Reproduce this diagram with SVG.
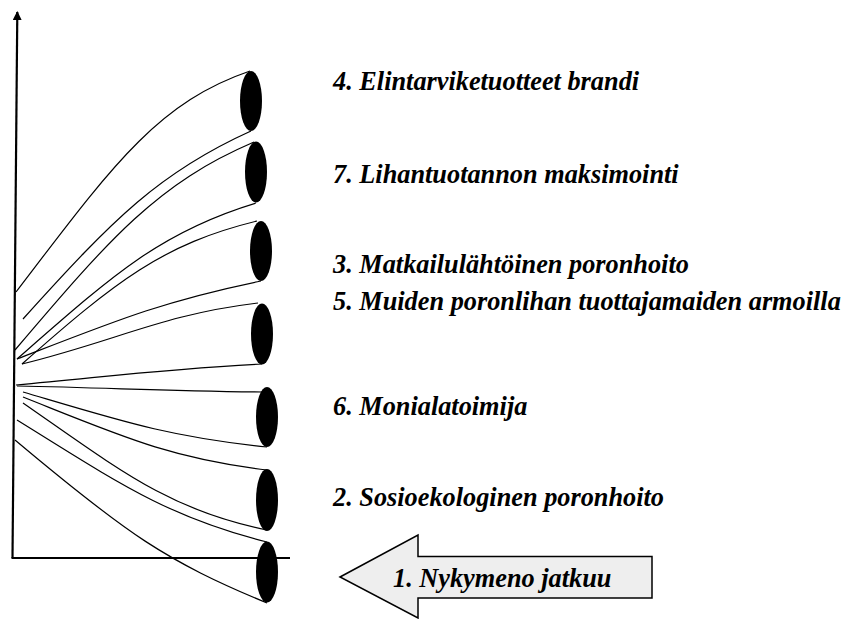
<svg xmlns="http://www.w3.org/2000/svg" width="851" height="619" viewBox="0 0 851 619">
<style>
.lbl{font-family:"Liberation Serif","Times New Roman",serif;font-weight:bold;font-style:italic;font-size:26.3px;fill:#000}
.c{fill:none;stroke:#000;stroke-width:1.2}
.ax{fill:none;stroke:#000;stroke-width:2.2}
.el{fill:#000}
</style>
<defs>
<marker id="ah" viewBox="0 0 10 10" refX="9" refY="5" markerWidth="4" markerHeight="4" orient="auto" markerUnits="strokeWidth">
<path d="M0,0 L10,5 L0,10 z" fill="#000"/>
</marker>
</defs>
<rect width="851" height="619" fill="#fff"/>
<g id="axes">
<line class="ax" x1="12.5" y1="558" x2="17.3" y2="12" marker-end="url(#ah)"/>
<line class="ax" x1="11.5" y1="558" x2="290" y2="558"/>
</g>
<g id="connectors">
<path class="c" d="M16,292 C110,169 156,103 250,71"/>
<path class="c" d="M23,319 C114,218 160,172 251,131"/>
<path class="c" d="M15,350 C111,237 158,183 254,142"/>
<path class="c" d="M17,359 C113,275 160,232 256,203"/>
<path class="c" d="M22,364 C116,281 163,244 257,221"/>
<path class="c" d="M17,359 C115,321 163,301 261,281"/>
<path class="c" d="M22,364 C116,341 164,314 258,303"/>
<path class="c" d="M16,385 C114,376 164,369 262,364"/>
<path class="c" d="M17,386 C115,388 165,391 263,392"/>
<path class="c" d="M23,392 C121,421 169,437 267,447"/>
<path class="c" d="M23,397 C121,436 169,458 267,470"/>
<path class="c" d="M23,403 C121,471 169,510 267,530"/>
<path class="c" d="M17,420 C117,482 167,517 267,542"/>
<path class="c" d="M15,440 C128,535 166,561 267,603"/>
</g>
<g id="n4"><ellipse class="el" cx="251" cy="101" rx="11" ry="30"/><text class="lbl" x="333" y="90">4. Elintarviketuotteet brandi</text></g>
<g id="n7"><ellipse class="el" cx="256" cy="172" rx="11" ry="30.5"/><text class="lbl" x="333" y="183">7. Lihantuotannon maksimointi</text></g>
<g id="n3"><ellipse class="el" cx="261" cy="251" rx="11" ry="30"/><text class="lbl" x="333" y="273">3. Matkailulähtöinen poronhoito</text></g>
<g id="n5"><ellipse class="el" cx="262" cy="334" rx="11" ry="30.5"/><text class="lbl" x="333" y="310">5. Muiden poronlihan tuottajamaiden armoilla</text></g>
<g id="n6"><ellipse class="el" cx="267" cy="417" rx="11" ry="30"/><text class="lbl" x="333" y="415">6. Monialatoimija</text></g>
<g id="n2"><ellipse class="el" cx="267" cy="500" rx="11" ry="31"/><text class="lbl" x="333" y="506">2. Sosioekologinen poronhoito</text></g>
<g id="n1"><ellipse class="el" cx="267" cy="572" rx="11" ry="30.5"/>
<polygon points="340,577 418,535 418,556.5 652,556.5 652,598 418,598 418,618" fill="#eeeeee" stroke="#000" stroke-width="1.5"/>
<text class="lbl" x="393" y="587">1. Nykymeno jatkuu</text></g>
</svg>
